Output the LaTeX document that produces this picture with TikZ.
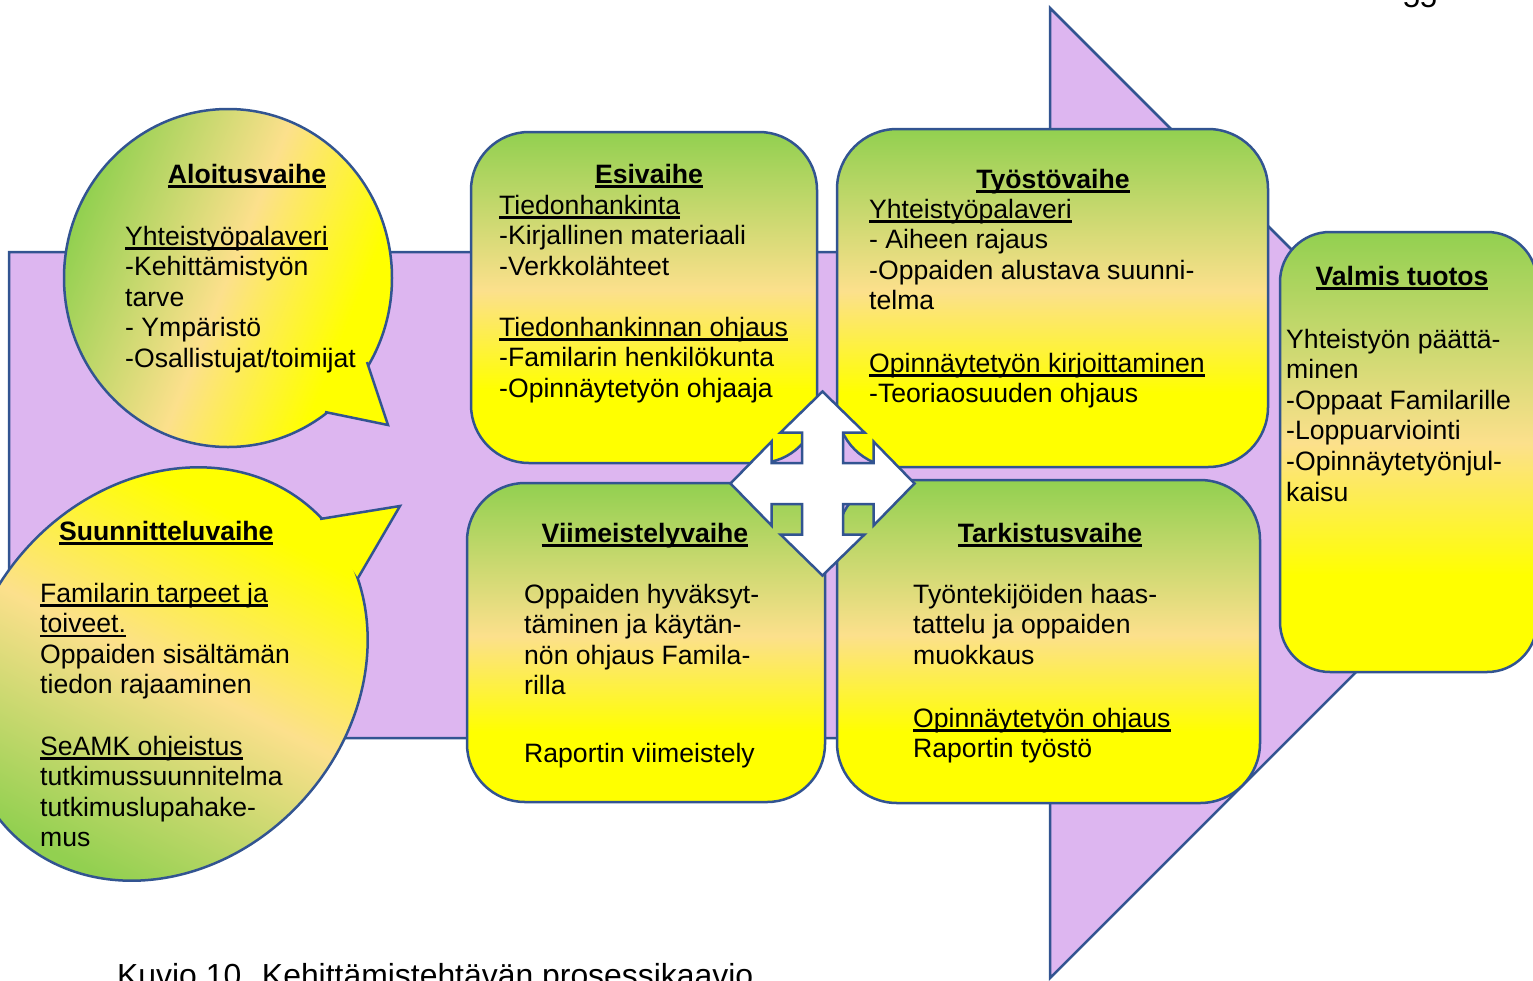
\documentclass[tikz,border=0pt]{standalone}
\usepackage{fontspec}
\setmainfont{Liberation Sans}
\definecolor{arrowfill}{RGB}{221,182,240}
\definecolor{edge}{RGB}{50,84,145}
\definecolor{grn}{RGB}{146,208,80}
\definecolor{peach}{RGB}{252,224,140}
\definecolor{yel}{RGB}{255,255,0}
\pgfdeclareverticalshading{boxgrad}{100bp}{color(0bp)=(yel); color(25bp)=(yel); color(36bp)=(yel); color(51bp)=(peach); color(75bp)=(grn); color(100bp)=(grn)}
\pgfdeclareverticalshading{bubgrad}{100bp}{color(0bp)=(yel); color(31bp)=(yel); color(50bp)=(peach); color(74bp)=(grn); color(100bp)=(grn)}
\newcommand{\bodyfont}{\fontsize{26.6}{30.6}\selectfont}
\newcommand{\uln}[1]{\setbox0=\hbox{#1}\rlap{\rule[-4.5pt]{\wd0}{2.2pt}}\box0}
\newcommand{\ulb}[1]{\setbox0=\hbox{\bfseries #1}\rlap{\rule[-5.2pt]{\wd0}{3pt}}\box0}
\newcommand{\blk}[1]{\begin{tabular}[t]{@{}l@{}}#1\end{tabular}}
\begin{document}
\begin{tikzpicture}[x=1pt,y=-1pt,
  edgeline/.style={draw=edge, line width=2.5pt},
  boxstyle/.style={edgeline, shade, shading=boxgrad, inner sep=0pt, rounded corners=58pt},
  txt/.style={anchor=base west, inner sep=0pt, font=\bodyfont},
  ttl/.style={anchor=base, inner sep=0pt, font=\bodyfont}]
\useasboundingbox (0,0) rectangle (1533,980);
% big background arrow
\draw[edgeline, fill=arrowfill] (9,252) -- (1050,252) -- (1050,8) -- (1535,493) -- (1050,978) -- (1050,738) -- (9,738) -- cycle;
% Aloitusvaihe bubble
\begin{scope}
  \clip (228,278) ellipse [x radius=164pt, y radius=169pt];
  \shade[shading=bubgrad, shading angle=68] (60,105) rectangle (395,450);
\end{scope}
\draw[edgeline] (228,278) ellipse [x radius=164pt, y radius=169pt];
\begin{scope}
  \clip (367,362) -- (388,425) -- (325,412) -- cycle;
  \shade[shading=bubgrad, shading angle=68] (60,105) rectangle (395,450);
\end{scope}
\draw[edgeline, line join=miter] (367,362) -- (388,425) -- (325,412);
% Suunnitteluvaihe bubble
\begin{scope}
  \clip[shift={(165,674)}, rotate=48.4] (0,0) ellipse [x radius=221pt, y radius=187pt];
  \shade[shading=bubgrad, shading angle=153] (-60,460) rectangle (410,890);
\end{scope}
\draw[edgeline, shift={(165,674)}, rotate=48.4] (0,0) ellipse [x radius=221pt, y radius=187pt];
\begin{scope}
  \clip (358,578) -- (400,506) -- (320,519) -- cycle;
  \shade[shading=bubgrad, shading angle=153] (-60,460) rectangle (410,890);
\end{scope}
\draw[edgeline] (358,578) -- (400,506) -- (320,519);
% boxes
\node[boxstyle, minimum width=346pt, minimum height=331pt] (esi) at (644,297.5) {};
\node[boxstyle, rounded corners=60pt, minimum width=431pt, minimum height=338pt] (tyo) at (1052.5,298) {};
\node[boxstyle, minimum width=358pt, minimum height=319pt] (viim) at (646,642.5) {};
\node[boxstyle, rounded corners=60pt, minimum width=423pt, minimum height=323pt] (tark) at (1048.5,641.5) {};
\node[boxstyle, rounded corners=50pt, minimum width=257pt, minimum height=440pt] (valmis) at (1408.5,452) {};
% four-way arrow
\draw[edgeline, fill=white, shift={(822.5,483.5)}]
  (0,-92) -- (42,-51) -- (20.5,-51) -- (20.5,-20.5) -- (51,-20.5) -- (51,-42) -- (92,0)
  -- (51,42) -- (51,20.5) -- (20.5,20.5) -- (20.5,51) -- (42,51) -- (0,92)
  -- (-42,51) -- (-20.5,51) -- (-20.5,20.5) -- (-51,20.5) -- (-51,42) -- (-92,0)
  -- (-51,-42) -- (-51,-20.5) -- (-20.5,-20.5) -- (-20.5,-51) -- (-42,-51) -- cycle;
% texts: Aloitusvaihe
\node[ttl] (alo-t) at (247,183) {\ulb{Aloitusvaihe}};
\node[txt] (alo-a) at (125,245) {\blk{\uln{Yhteistyöpalaveri}\\ -Kehittämistyön\\ tarve\\ - Ympäristö\\ -Osallistujat/toimijat}};
% Suunnitteluvaihe
\node[txt] (suu-t) at (59,540) {\ulb{Suunnitteluvaihe}};
\node[txt] (suu-a) at (40,602) {\blk{\uln{Familarin tarpeet ja}\\ \uln{toiveet.}\\ Oppaiden sisältämän\\ tiedon rajaaminen}};
\node[txt] (suu-b) at (40,755) {\blk{\uln{SeAMK ohjeistus}\\ tutkimussuunnitelma\\ tutkimuslupahake-\\ mus}};
% Esivaihe
\node[ttl] (esi-t) at (649,183) {\ulb{Esivaihe}};
\node[txt] (esi-a) at (499,214) {\blk{\uln{Tiedonhankinta}\\ -Kirjallinen materiaali\\ -Verkkolähteet}};
\node[txt] (esi-b) at (499,336) {\blk{\uln{Tiedonhankinnan ohjaus}\\ -Familarin henkilökunta\\ -Opinnäytetyön ohjaaja}};
% Tyostovaihe
\node[ttl] (tyo-t) at (1053,188) {\ulb{Työstövaihe}};
\node[txt] (tyo-a) at (869,218) {\blk{\uln{Yhteistyöpalaveri}\\ - Aiheen rajaus\\ -Oppaiden alustava suunni-\\ telma}};
\node[txt] (tyo-b) at (869,372) {\blk{\uln{Opinnäytetyön kirjoittaminen}\\ -Teoriaosuuden ohjaus}};
% Viimeistelyvaihe
\node[ttl] (viim-t) at (645,542) {\ulb{Viimeistelyvaihe}};
\node[txt] (viim-a) at (524,603) {\blk{Oppaiden hyväksyt-\\ täminen ja käytän-\\ nön ohjaus Famila-\\ rilla}};
\node[txt] (viim-b) at (524,762) {Raportin viimeistely};
% Tarkistusvaihe
\node[ttl] (tark-t) at (1050,542) {\ulb{Tarkistusvaihe}};
\node[txt] (tark-a) at (913,603) {\blk{Työntekijöiden haas-\\ tattelu ja oppaiden\\ muokkaus}};
\node[txt] (tark-b) at (913,727) {\blk{\uln{Opinnäytetyön ohjaus}\\ Raportin työstö}};
% Valmis tuotos
\node[ttl] (val-t) at (1402,285) {\ulb{Valmis tuotos}};
\node[txt] (val-a) at (1286,348) {\blk{Yhteistyön päättä-\\ minen\\ -Oppaat Familarille\\ -Loppuarviointi\\ -Opinnäytetyönjul-\\ kaisu}};
% page number and caption (cut by the page edge, as in the reference)
\node[anchor=base west, inner sep=0pt, font=\fontsize{30.6}{34}\selectfont] (pagenum) at (1403,7) {55};
\node[anchor=base west, inner sep=0pt, font=\fontsize{31.9}{36}\selectfont] (caption) at (117,986) {Kuvio 10. Kehittämistehtävän prosessikaavio};
\end{tikzpicture}
\end{document}
